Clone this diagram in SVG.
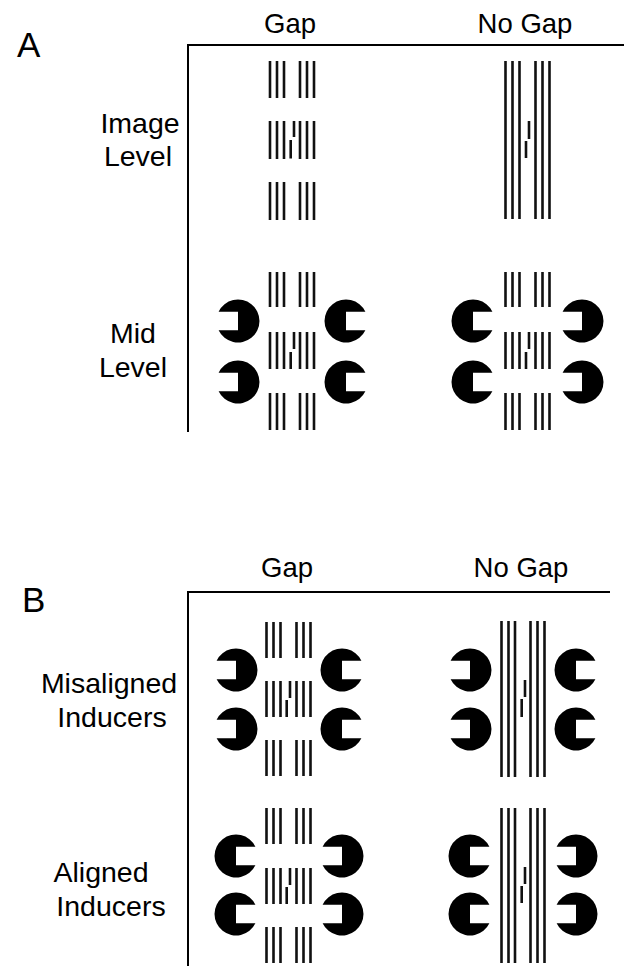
<svg xmlns="http://www.w3.org/2000/svg" xmlns:xlink="http://www.w3.org/1999/xlink" width="624" height="966" viewBox="0 0 624 966">
<style>
.t{font-family:"Liberation Sans",Arial,sans-serif;font-size:28.5px;fill:#000;text-anchor:middle}
.h{font-family:"Liberation Sans",Arial,sans-serif;font-size:27.5px;fill:#000;text-anchor:middle}
.p{font-family:"Liberation Sans",Arial,sans-serif;font-size:35px;fill:#000}
.ax{stroke:#000;stroke-width:2;fill:none}
.b{stroke:#111;stroke-width:2.6;fill:none}
.pm{fill:#000}
</style>
<defs>
<path id="c" class="pm" d="M19.4,-9.3 A21.5 21.5 0 1 0 19.4,9.3 L0,9.3 L0,-9.3 Z"/>
</defs>
<rect width="624" height="966" fill="#fff"/>
<g id="labels">
<text class="p" x="17" y="57">A</text>
<text class="h" x="290" y="33">Gap</text>
<text class="h" x="525" y="33">No Gap</text>
<text class="t" x="140" y="133">Image</text>
<text class="t" x="138" y="166">Level</text>
<text class="t" x="133" y="343">Mid</text>
<text class="t" x="133" y="377">Level</text>
<text class="p" x="22" y="612">B</text>
<text class="h" x="287" y="577">Gap</text>
<text class="h" x="521" y="577">No Gap</text>
<text class="t" x="109" y="693">Misaligned</text>
<text class="t" x="112" y="727">Inducers</text>
<text class="t" x="101" y="882">Aligned</text>
<text class="t" x="111" y="916">Inducers</text>
</g>
<g id="connectors">
<path class="ax" d="M187,45 H624 M188,44 V432"/>
<path class="ax" d="M187,592 H610 M188,591 V966"/>
</g>
<g id="a-gap-image">
<path class="b" d="M270,61V98M277,61V98M284,61V98M300,61V98M307,61V98M314,61V98"/>
<path class="b" d="M270,121V159M277,121V159M284,121V159M300,121V159M307,121V159M314,121V159M294,121V137M290.7,140V158.5"/>
<path class="b" d="M270,182V220M277,182V220M284,182V220M300,182V220M307,182V220M314,182V220"/>
</g>
<g id="a-nogap-image">
<path class="b" d="M505.5,61V219M512.5,61V219M519.5,61V219M535.5,61V219M542.5,61V219M549.5,61V219M529,121V139M526,141V158"/>
</g>
<g id="a-gap-mid">
<path class="b" d="M270,272V307M277,272V307M284,272V307M300,272V307M307,272V307M314,272V307"/>
<path class="b" d="M270,332V369M277,332V369M284,332V369M300,332V369M307,332V369M314,332V369M294,332V349M290.7,352V369"/>
<path class="b" d="M270,393V430M277,393V430M284,393V430M300,393V430M307,393V430M314,393V430"/>
<use xlink:href="#c" href="#c" transform="translate(238,321) scale(-1,1)"/>
<use xlink:href="#c" href="#c" transform="translate(238,382) scale(-1,1)"/>
<use xlink:href="#c" href="#c" transform="translate(346,321)"/>
<use xlink:href="#c" href="#c" transform="translate(346,382)"/>
</g>
<g id="a-nogap-mid">
<path class="b" d="M505.5,272V307M512.5,272V307M519.5,272V307M535.5,272V307M542.5,272V307M549.5,272V307"/>
<path class="b" d="M505.5,332V369M512.5,332V369M519.5,332V369M535.5,332V369M542.5,332V369M549.5,332V369M529,332V349M526,352V369"/>
<path class="b" d="M505.5,393V430M512.5,393V430M519.5,393V430M535.5,393V430M542.5,393V430M549.5,393V430"/>
<use xlink:href="#c" href="#c" transform="translate(473,321)"/>
<use xlink:href="#c" href="#c" transform="translate(473,382)"/>
<use xlink:href="#c" href="#c" transform="translate(582,321) scale(-1,1)"/>
<use xlink:href="#c" href="#c" transform="translate(582,382) scale(-1,1)"/>
</g>
<g id="b-gap-misaligned">
<path class="b" d="M266.5,622V658M273.5,622V658M280.5,622V658M296.5,622V658M303.5,622V658M310.5,622V658"/>
<path class="b" d="M266.5,681V717M273.5,681V717M280.5,681V717M296.5,681V717M303.5,681V717M310.5,681V717M290,681V698M286.7,700V717"/>
<path class="b" d="M266.5,740V776M273.5,740V776M280.5,740V776M296.5,740V776M303.5,740V776M310.5,740V776"/>
<use xlink:href="#c" href="#c" transform="translate(236,670) scale(-1,1)"/>
<use xlink:href="#c" href="#c" transform="translate(236,729) scale(-1,1)"/>
<use xlink:href="#c" href="#c" transform="translate(342,670)"/>
<use xlink:href="#c" href="#c" transform="translate(342,729)"/>
</g>
<g id="b-nogap-misaligned">
<path class="b" d="M501.5,621V777M508.5,621V777M515,621V777M530.5,621V777M537.5,621V777M544.5,621V777M525,680V697M521.7,699V717"/>
<use xlink:href="#c" href="#c" transform="translate(470,670) scale(-1,1)"/>
<use xlink:href="#c" href="#c" transform="translate(470,729) scale(-1,1)"/>
<use xlink:href="#c" href="#c" transform="translate(576,670)"/>
<use xlink:href="#c" href="#c" transform="translate(576,729)"/>
</g>
<g id="b-gap-aligned">
<path class="b" d="M266.5,808V844M273.5,808V844M280.5,808V844M296.5,808V844M303.5,808V844M310.5,808V844"/>
<path class="b" d="M266.5,868V904M273.5,868V904M280.5,868V904M296.5,868V904M303.5,868V904M310.5,868V904M290,868V885M286.7,887V904"/>
<path class="b" d="M266.5,927V963M273.5,927V963M280.5,927V963M296.5,927V963M303.5,927V963M310.5,927V963"/>
<use xlink:href="#c" href="#c" transform="translate(236,856)"/>
<use xlink:href="#c" href="#c" transform="translate(236,914)"/>
<use xlink:href="#c" href="#c" transform="translate(342,856) scale(-1,1)"/>
<use xlink:href="#c" href="#c" transform="translate(342,914) scale(-1,1)"/>
</g>
<g id="b-nogap-aligned">
<path class="b" d="M501.5,808V963M508.5,808V963M515,808V963M530.5,808V963M537.5,808V963M544.5,808V963M525,867V884M521.7,886V903"/>
<use xlink:href="#c" href="#c" transform="translate(470,856)"/>
<use xlink:href="#c" href="#c" transform="translate(470,914)"/>
<use xlink:href="#c" href="#c" transform="translate(576,856) scale(-1,1)"/>
<use xlink:href="#c" href="#c" transform="translate(576,914) scale(-1,1)"/>
</g>
</svg>
